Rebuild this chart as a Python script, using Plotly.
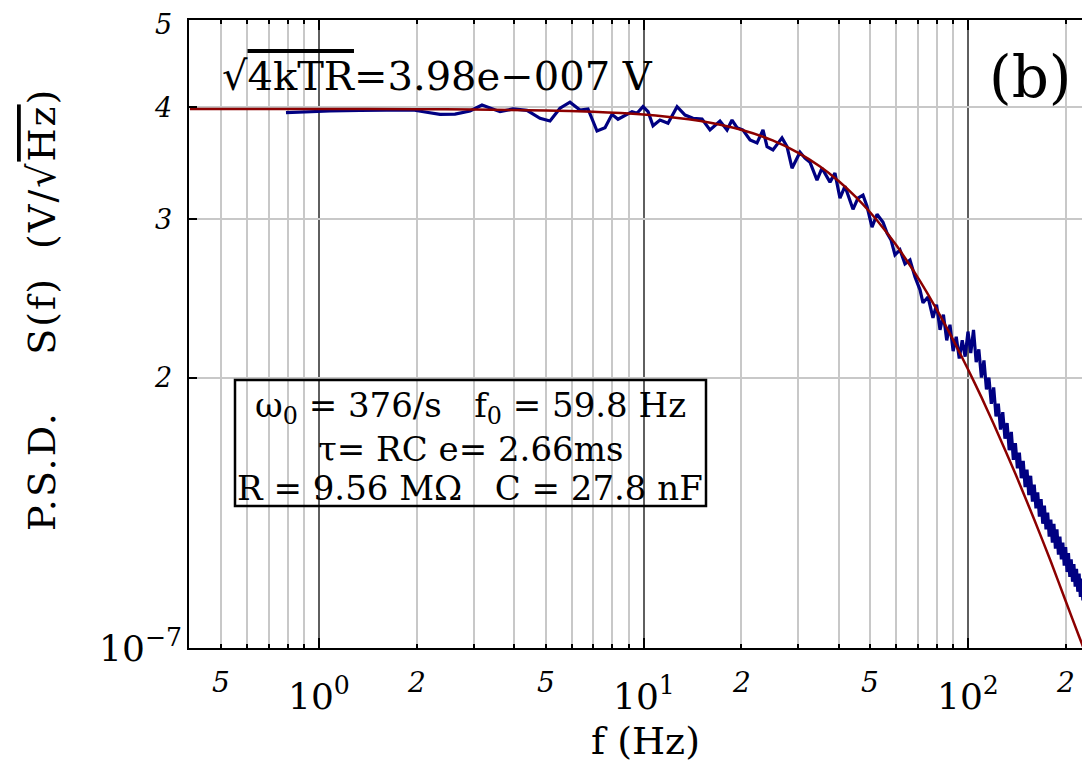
import numpy as np
import plotly.graph_objects as go

# ---------------- data (PSD values in units of 1e-7 V/sqrt(Hz)) ----------------
freq_blue = [0.791, 0.874, 1.081, 1.337, 1.715, 1.949, 2.122, 2.360, 2.625, 2.920,
             3.179, 3.413, 3.613, 3.962, 4.375, 4.797, 5.151, 5.530, 5.935, 6.372,
             6.745, 7.190, 7.610, 7.997, 8.345, 9.218, 9.550, 9.965, 10.33, 10.70,
             11.24, 11.90, 12.69, 13.43, 14.21, 15.15, 16.03, 17.21, 18.09, 18.74,
             19.42, 20.26, 21.30, 22.38, 23.35, 24.03, 25.06, 26.72, 27.69, 28.69,
             30.36, 31.45, 32.59, 34.25, 35.49, 37.56, 38.91, 40.32, 41.78, 44.22,
             45.81, 47.47, 48.84, 50.61, 52.44, 54.72, 56.30, 57.92, 59.57, 61.72,
             63.95, 66.26, 68.66, 71.14, 72.67, 75.30,
             78, 80, 82, 84, 86, 88, 90, 92, 94, 96, 98, 100, 102, 104, 106, 108,
             110, 112, 114, 116, 118, 120, 122, 124, 126, 128, 130, 132, 134, 136,
             138, 140, 142, 144, 146, 148, 150, 152, 154, 156, 158, 160, 162, 164,
             166, 168, 170, 172, 174, 176, 178, 180, 182, 184, 186, 188, 190, 192,
             194, 196, 198, 200, 202, 204, 206, 208, 210, 212, 214, 216, 218, 220,
             222, 224, 226, 228, 230, 232, 234, 236, 238, 240]
psd_blue = [3.943, 3.950, 3.960, 3.965, 3.970, 3.970, 3.950, 3.926, 3.929, 3.960,
            4.021, 3.981, 3.953, 3.981, 3.967, 3.887, 3.860, 3.988, 4.050, 3.970,
            3.981, 3.762, 3.794, 3.926, 3.877, 3.953, 3.937, 4.004, 3.953, 3.813,
            3.869, 3.837, 4.004, 3.919, 3.887, 3.880, 3.772, 3.860, 3.772, 3.869,
            3.794, 3.772, 3.677, 3.649, 3.772, 3.614, 3.584, 3.696, 3.614, 3.420,
            3.563, 3.509, 3.473, 3.317, 3.420, 3.300, 3.377, 3.167, 3.266, 3.078,
            3.167, 3.192, 3.102, 2.940, 3.039, 2.978, 2.897, 2.846, 2.739, 2.774,
            2.676, 2.703, 2.588, 2.504, 2.422, 2.459,
            2.33, 2.41, 2.26, 2.35, 2.20, 2.29, 2.14, 2.22, 2.10, 2.20, 2.11, 2.25,
            2.13, 2.26, 2.08, 2.15, 2.00, 2.09, 1.94, 2.00, 1.87, 1.95, 1.81, 1.87,
            1.75, 1.83, 1.71, 1.78, 1.66, 1.74, 1.62, 1.69, 1.585, 1.65, 1.545, 1.615,
            1.51, 1.58, 1.48, 1.555, 1.455, 1.52, 1.43, 1.49, 1.40, 1.465, 1.375, 1.44,
            1.355, 1.415, 1.33, 1.39, 1.31, 1.375, 1.29, 1.355, 1.27, 1.33, 1.255, 1.31,
            1.235, 1.295, 1.215, 1.275, 1.20, 1.255, 1.185, 1.24, 1.17, 1.225, 1.155,
            1.21, 1.14, 1.195, 1.13, 1.18, 1.115, 1.17, 1.10, 1.155, 1.09, 1.14]

freq_fit = [0.4, 1, 2, 3, 5, 7, 10, 12, 15, 20, 25, 30, 35, 40, 45, 50, 55, 60,
            65, 70, 75, 80, 85, 90, 100, 110, 120, 140, 160, 180, 200, 220, 240]
psd_fit = [3.98, 3.98, 3.978, 3.975, 3.966, 3.953, 3.925, 3.900, 3.860, 3.774,
           3.672, 3.557, 3.435, 3.308, 3.180, 3.053, 2.929, 2.810, 2.694, 2.585,
           2.481, 2.383, 2.290, 2.203, 2.043, 1.902, 1.775, 1.563, 1.390, 1.248,
           1.128, 1.030, 0.950]

UNIT = 1e-7

x_major_ticks = [1, 10, 100]
x_major_text = ["10<sup>0</sup>", "10<sup>1</sup>", "10<sup>2</sup>"]
x_minor_label_ticks = [0.5, 2, 5, 20, 50, 200]
x_minor_label_text = ["5", "2", "5", "2", "5", "2"]
x_minor_grid = [0.5, 0.6, 0.7, 0.8, 0.9, 2, 3, 4, 5, 6, 7, 8, 9,
                20, 30, 40, 50, 60, 70, 80, 90, 200]
y_grid_ticks = [2e-7, 3e-7, 4e-7]
y_label_ticks = [2e-7, 3e-7, 4e-7, 5e-7]
y_label_text = ["2", "3", "4", "5"]
y_bottom_tick = 1e-7
y_bottom_text = "10<sup>\u22127</sup>"

box_lines = ["\u03c9<sub>0</sub> = 376/s\u00a0\u00a0\u00a0f<sub>0</sub> = 59.8 Hz",
             "\u03c4= RC e= 2.66ms",
             "R = 9.56 M\u03a9\u00a0\u00a0\u00a0C = 27.8 nF"]

FONT = "DejaVu Serif"
OVL = "<span style='text-decoration:overline'>"
NB = "\u00a0"

# plot area in page pixels: x 189..1090, y 20..648 (page has an 8px body margin)
PX0, PW, PY1, PH = 189, 901, 648, 628


def px(x):
    return (x - PX0) / PW


def py(y):
    return (PY1 - y) / PH


fig = go.Figure()
fig.add_trace(go.Scatter(x=freq_blue, y=[v * UNIT for v in psd_blue], mode="lines",
                         line=dict(color="rgb(0,0,130)", width=3.2), hoverinfo="skip"))
fig.add_trace(go.Scatter(x=freq_fit, y=[v * UNIT for v in psd_fit], mode="lines",
                         line=dict(color="rgb(140,0,0)", width=2.5, shape="spline",
                                   smoothing=0.6), hoverinfo="skip"))

ann = []
for v, t in zip(x_major_ticks, x_major_text):
    ann.append(dict(x=np.log10(v), xref="x", y=0, yref="paper", yshift=-46,
                    text=t, showarrow=False, xanchor="center", yanchor="middle",
                    font=dict(family=FONT, size=36, color="black")))
for v, t in zip(x_minor_label_ticks, x_minor_label_text):
    ann.append(dict(x=np.log10(v), xref="x", y=0, yref="paper", yshift=-34,
                    text="<i>" + t + "</i>", showarrow=False, xanchor="center",
                    yanchor="middle", font=dict(family=FONT, size=28, color="black")))
for v, t in zip(y_label_ticks, y_label_text):
    ann.append(dict(x=0, xref="paper", xshift=-15, y=np.log10(v), yref="y",
                    yshift=(-4 if v == max(y_label_ticks) else 0),
                    text="<i>" + t + "</i>", showarrow=False, xanchor="right",
                    yanchor="middle", font=dict(family=FONT, size=27, color="black")))
ann.append(dict(x=0, xref="paper", xshift=-5, y=np.log10(y_bottom_tick), yref="y",
                yshift=2, text=y_bottom_text, showarrow=False, xanchor="right",
                yanchor="middle", font=dict(family=FONT, size=36, color="black")))
ann.append(dict(x=px(645), xref="paper", y=py(741), yref="paper", text="f (Hz)",
                showarrow=False, xanchor="center", yanchor="middle",
                font=dict(family=FONT, size=38, color="black")))
ann.append(dict(x=px(42), xref="paper", y=py(310), yref="paper",
                text=("<span style='letter-spacing:2px'>P.S.D." + NB * 4 + "S(f)" + NB * 2
                      + "(V/\u221a" + OVL + "Hz</span>)</span>"),
                textangle=-90, showarrow=False, xanchor="center", yanchor="middle",
                font=dict(family=FONT, size=38, color="black")))
ann.append(dict(x=px(220), xref="paper", y=py(76), yref="paper",
                text="\u221a" + OVL + "4kTR</span>=3.98e\u2212007" + NB + "V",
                showarrow=False, xanchor="left", yanchor="middle",
                font=dict(family=FONT, size=40, color="black")))
ann.append(dict(x=px(1030), xref="paper", y=py(77), yref="paper", text="(b)",
                showarrow=False, xanchor="center", yanchor="middle",
                font=dict(family=FONT, size=58, color="black")))
for t, yc in zip(box_lines, [407, 449, 488]):
    ann.append(dict(x=px(470), xref="paper", y=py(yc), yref="paper", text=t,
                    showarrow=False, xanchor="center", yanchor="middle",
                    font=dict(family=FONT, size=34, color="black")))

shapes = [dict(type="rect", xref="paper", yref="paper", x0=px(235), x1=px(706),
               y0=py(506), y1=py(380), line=dict(color="black", width=2.5))]

fig.update_layout(
    width=1082, height=760,
    margin=dict(l=181, r=0, t=12, b=120),
    plot_bgcolor="white", paper_bgcolor="white",
    showlegend=False,
    annotations=ann,
    shapes=shapes,
    xaxis=dict(type="log", range=[np.log10(0.3975), np.log10(237.7)],
               tickvals=x_major_ticks, showticklabels=False,
               ticks="inside", ticklen=10, tickwidth=2, tickcolor="black",
               showgrid=True, gridcolor="rgb(95,95,95)", gridwidth=2,
               showline=True, linecolor="black", linewidth=2, mirror="ticks",
               zeroline=False,
               minor=dict(tickvals=x_minor_grid, ticks="inside", ticklen=4,
                          tickwidth=1.5, tickcolor="black", showgrid=True,
                          gridcolor="rgb(200,200,200)", gridwidth=1.5)),
    yaxis=dict(type="log", range=[-7, np.log10(5e-7)],
               tickvals=y_grid_ticks, showticklabels=False,
               ticks="inside", ticklen=8, tickwidth=2, tickcolor="black",
               showgrid=True, gridcolor="rgb(200,200,200)", gridwidth=1.5,
               showline=True, linecolor="black", linewidth=2, mirror=False,
               zeroline=False),
)

fig.write_html("out.html")
